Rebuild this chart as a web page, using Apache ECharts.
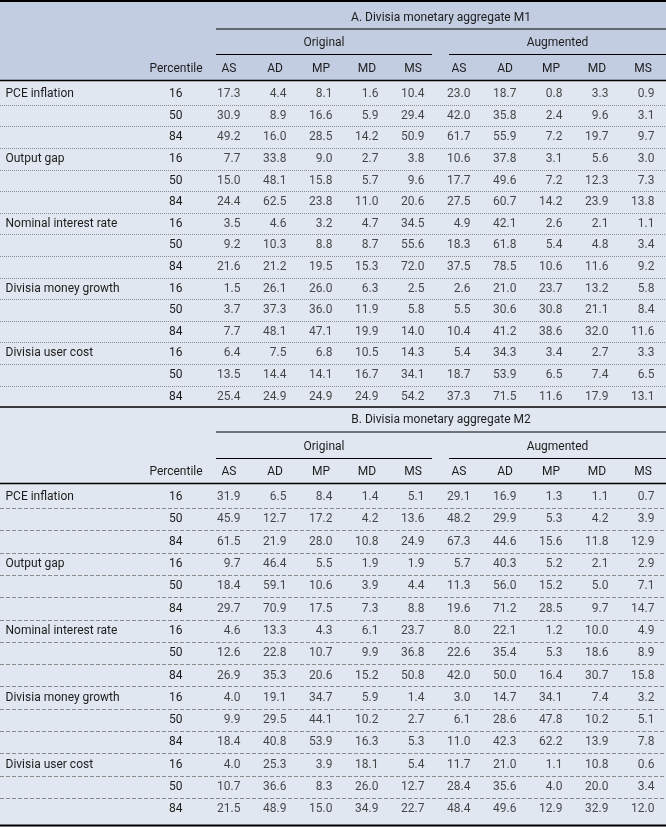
<!DOCTYPE html>
<html><head><meta charset="utf-8">
<script src="https://cdn.jsdelivr.net/npm/echarts@6/dist/echarts.min.js"></script>
<style>html,body{margin:0;padding:0;background:#e1e7f1}#c{width:666px;height:827px}</style>
</head><body><div id="c"></div><script>
// ---------- DATA ----------
const variables = ['PCE inflation', 'Output gap', 'Nominal interest rate', 'Divisia money growth', 'Divisia user cost'];
const percentiles = ['16', '50', '84'];
const shocks = ['AS', 'AD', 'MP', 'MD', 'MS'];
const specifications = ['Original', 'Augmented'];
const panelTitles = ['A. Divisia monetary aggregate M1', 'B. Divisia monetary aggregate M2'];
const percentileHeader = 'Percentile';

const m1Original = [
  [17.3, 4.4, 8.1, 1.6, 10.4], [30.9, 8.9, 16.6, 5.9, 29.4], [49.2, 16.0, 28.5, 14.2, 50.9],
  [7.7, 33.8, 9.0, 2.7, 3.8], [15.0, 48.1, 15.8, 5.7, 9.6], [24.4, 62.5, 23.8, 11.0, 20.6],
  [3.5, 4.6, 3.2, 4.7, 34.5], [9.2, 10.3, 8.8, 8.7, 55.6], [21.6, 21.2, 19.5, 15.3, 72.0],
  [1.5, 26.1, 26.0, 6.3, 2.5], [3.7, 37.3, 36.0, 11.9, 5.8], [7.7, 48.1, 47.1, 19.9, 14.0],
  [6.4, 7.5, 6.8, 10.5, 14.3], [13.5, 14.4, 14.1, 16.7, 34.1], [25.4, 24.9, 24.9, 24.9, 54.2]
];
const m1Augmented = [
  [23.0, 18.7, 0.8, 3.3, 0.9], [42.0, 35.8, 2.4, 9.6, 3.1], [61.7, 55.9, 7.2, 19.7, 9.7],
  [10.6, 37.8, 3.1, 5.6, 3.0], [17.7, 49.6, 7.2, 12.3, 7.3], [27.5, 60.7, 14.2, 23.9, 13.8],
  [4.9, 42.1, 2.6, 2.1, 1.1], [18.3, 61.8, 5.4, 4.8, 3.4], [37.5, 78.5, 10.6, 11.6, 9.2],
  [2.6, 21.0, 23.7, 13.2, 5.8], [5.5, 30.6, 30.8, 21.1, 8.4], [10.4, 41.2, 38.6, 32.0, 11.6],
  [5.4, 34.3, 3.4, 2.7, 3.3], [18.7, 53.9, 6.5, 7.4, 6.5], [37.3, 71.5, 11.6, 17.9, 13.1]
];
const m2Original = [
  [31.9, 6.5, 8.4, 1.4, 5.1], [45.9, 12.7, 17.2, 4.2, 13.6], [61.5, 21.9, 28.0, 10.8, 24.9],
  [9.7, 46.4, 5.5, 1.9, 1.9], [18.4, 59.1, 10.6, 3.9, 4.4], [29.7, 70.9, 17.5, 7.3, 8.8],
  [4.6, 13.3, 4.3, 6.1, 23.7], [12.6, 22.8, 10.7, 9.9, 36.8], [26.9, 35.3, 20.6, 15.2, 50.8],
  [4.0, 19.1, 34.7, 5.9, 1.4], [9.9, 29.5, 44.1, 10.2, 2.7], [18.4, 40.8, 53.9, 16.3, 5.3],
  [4.0, 25.3, 3.9, 18.1, 5.4], [10.7, 36.6, 8.3, 26.0, 12.7], [21.5, 48.9, 15.0, 34.9, 22.7]
];
const m2Augmented = [
  [29.1, 16.9, 1.3, 1.1, 0.7], [48.2, 29.9, 5.3, 4.2, 3.9], [67.3, 44.6, 15.6, 11.8, 12.9],
  [5.7, 40.3, 5.2, 2.1, 2.9], [11.3, 56.0, 15.2, 5.0, 7.1], [19.6, 71.2, 28.5, 9.7, 14.7],
  [8.0, 22.1, 1.2, 10.0, 4.9], [22.6, 35.4, 5.3, 18.6, 8.9], [42.0, 50.0, 16.4, 30.7, 15.8],
  [3.0, 14.7, 34.1, 7.4, 3.2], [6.1, 28.6, 47.8, 10.2, 5.1], [11.0, 42.3, 62.2, 13.9, 7.8],
  [11.7, 21.0, 1.1, 10.8, 0.6], [28.4, 35.6, 4.0, 20.0, 3.4], [48.4, 49.6, 12.9, 32.9, 12.0]
];

// ---------- BUILD ----------
const FONT = 'Roboto';
const FS = 12;
const TXT = '#1c1c1c';
const rowKeys = [];
const rowLabels = [];
variables.forEach((v, vi) => percentiles.forEach((p, pi) => {
  rowKeys.push(String(vi * percentiles.length + pi));
  rowLabels.push({ name: pi === 0 ? v : '', pct: p });
}));
const colLabels = specifications.flatMap(() => shocks);

function cells(orig, aug) {
  const d = [];
  orig.forEach((r, ri) => {
    r.forEach((v, ci) => d.push([ci, ri, v]));
    aug[ri].forEach((v, ci) => d.push([ci + shocks.length, ri, v]));
  });
  return d;
}
const panelData = [cells(m1Original, m1Augmented), cells(m2Original, m2Augmented)];

// layout (pixels)
const layout = [
  { top: 83.4, rowH: 21.6, titleY: 18, titleLine: 29, specY: 43, specLine: 54.5, headY: 69, headLine: 80.5, bottom: 407, bottomW: 1.5, sep: 'dotted' },
  { top: 486, rowH: 22.3, titleY: 420, titleLine: 432, specY: 446.5, specLine: 458.5, headY: 471.5, headLine: 483.5, bottom: 825.5, bottomW: 2, sep: 'dashed' }
];
const GL = 206, GW = 466;

const grid = [], xAxis = [], yAxis = [], series = [], graphic = [];
graphic.push({ type: 'rect', z: -10, shape: { x: 0, y: 0, width: 666, height: 80 }, style: { fill: '#c3cde2' } });
graphic.push({ type: 'line', z: 50, shape: { x1: 0, y1: 1, x2: 666, y2: 1 }, style: { stroke: '#000', lineWidth: 2 } });

layout.forEach((L, p) => {
  const h = L.rowH * rowKeys.length;
  grid.push({ left: GL, width: GW, top: L.top, height: h });
  grid.push({ left: 0, right: 0, top: L.top, height: h });
  xAxis.push({
    type: 'category', gridIndex: 2 * p, data: colLabels, position: 'top',
    axisLine: { show: false }, axisTick: { show: false }, splitLine: { show: false },
    axisLabel: { interval: 0, margin: L.top - L.headY, verticalAlign: 'middle', color: TXT, fontSize: FS, fontFamily: FONT }
  });
  xAxis.push({ type: 'value', gridIndex: 2 * p + 1, min: 0, max: 1, show: false });
  yAxis.push({
    type: 'category', gridIndex: 2 * p, data: rowKeys, inverse: true,
    axisLine: { show: false }, axisTick: { show: false }, splitLine: { show: false },
    axisLabel: {
      interval: 0, margin: 23.5, align: 'right', color: TXT, fontSize: FS, fontFamily: FONT,
      formatter: (val, i) => {
        const r = rowLabels[i];
        return (r.name ? '{v|' + r.name + '}' : '') + '{p|' + r.pct + '}';
      },
      rich: {
        v: { width: 159, align: 'left', color: TXT, fontSize: FS, fontFamily: FONT },
        p: { width: 18, align: 'right', color: TXT, fontSize: FS, fontFamily: FONT }
      }
    }
  });
  yAxis.push({
    type: 'category', gridIndex: 2 * p + 1, data: rowKeys, inverse: true,
    axisLine: { show: false }, axisTick: { show: false }, axisLabel: { show: false },
    splitLine: { show: true, showMinLine: false, showMaxLine: false, lineStyle: { color: '#8c8c8c', type: L.sep, width: 1 } }
  });
  series.push({
    type: 'scatter', xAxisIndex: 2 * p, yAxisIndex: 2 * p, data: panelData[p], silent: true,
    symbolSize: 1, itemStyle: { color: 'rgba(0,0,0,0)' }, z: 5,
    label: {
      show: true, position: 'inside', align: 'right', offset: [11.5, 0],
      formatter: (q) => q.value[2].toFixed(1), color: TXT, fontSize: FS, fontFamily: FONT
    },
    emphasis: { disabled: true }
  });
  // header texts and rules
  const txt = (x, y, t, align) => ({ type: 'text', z: 50, x: x, y: y, style: { text: t, textAlign: align || 'center', textVerticalAlign: 'middle', fill: TXT, fontSize: FS, fontFamily: FONT } });
  const line = (x1, y1, x2, w) => ({ type: 'line', z: 50, shape: { x1: x1, y1: y1, x2: x2, y2: y1 }, style: { stroke: '#000', lineWidth: w } });
  graphic.push(txt(441, L.titleY, panelTitles[p]));
  graphic.push(line(216, L.titleLine, 666, 1));
  graphic.push(txt(324, L.specY, specifications[0]));
  graphic.push(txt(557.5, L.specY, specifications[1]));
  graphic.push(line(216, L.specLine, 432, 1));
  graphic.push(line(449, L.specLine, 666, 1));
  graphic.push(txt(176, L.headY, percentileHeader));
  graphic.push(line(0, L.headLine, 666, 1.5));
  graphic.push(line(0, L.bottom, 666, L.bottomW));
});

const chart = echarts.init(document.getElementById('c'), null, { renderer: 'canvas' });
chart.setOption({
  backgroundColor: '#e1e7f1',
  animation: false,
  textStyle: { fontFamily: FONT },
  grid, xAxis, yAxis, series, graphic
});
</script></body></html>
